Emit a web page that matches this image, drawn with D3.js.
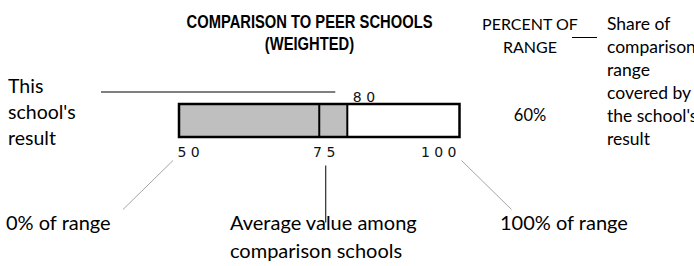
<!DOCTYPE html>
<html>
<head>
<meta charset="utf-8">
<script src="https://cdn.jsdelivr.net/npm/d3@7/dist/d3.min.js"></script>
<style>
  html, body { margin: 0; padding: 0; background: #fff; }
  svg { display: block; }
  .calib { font-family: Lato, "Open Sans", sans-serif; fill: #000; }
  .digits { font-family: "DejaVu Sans", Verdana, sans-serif; font-size: 14px; fill: #111; }
</style>
</head>
<body>
<svg id="chart" width="694" height="266"></svg>
<script>
// ---- data ----
const titleLines = ["COMPARISON TO PEER SCHOOLS", "(WEIGHTED)"];
const percentHeader = ["PERCENT OF", "RANGE"];
const noteLines = ["Share of", "comparison", "range", "covered by", "the school's", "result"];
const resultLabelLines = ["This", "school's", "result"];
const rangeDomain = [50, 100];
const tickValues = [50, 75, 100];
const schoolValue = [80];
const averageValue = [75];
const bottomLabels = ["0% of range", "100% of range"];
const averageLabelLines = ["Average value among", "comparison schools"];

// ---- setup ----
const svg = d3.select("#chart");
const x = d3.scaleLinear().domain(rangeDomain).range([179, 459.5]);
const barTop = 104, barH = 33;
const spaced = v => String(v).split("").join(" ");
const pct = d3.format(".0%")((schoolValue[0] - rangeDomain[0]) / (rangeDomain[1] - rangeDomain[0]));

// Title (narrow bold)
const tx = 309.5, narrow = 0.82;
svg.append("g").attr("transform", `translate(${tx},0) scale(${narrow},1)`)
  .selectAll("text").data(titleLines).join("text")
  .attr("x", 0).attr("y", (d, i) => 28.5 + i * 22)
  .attr("text-anchor", "middle")
  .style("font-family", "'Liberation Sans', Arial, sans-serif")
  .style("font-weight", "bold").style("font-size", "18px").style("fill", "#000")
  .text(d => d);

// Percent of range header
svg.append("g").selectAll("text").data(percentHeader).join("text")
  .attr("class", "calib").attr("x", 530).attr("y", (d, i) => 29.5 + i * 23.5)
  .attr("text-anchor", "middle").style("font-size", "16px").text(d => d);
svg.append("line").attr("x1", 572).attr("x2", 597).attr("y1", 37.5).attr("y2", 37.5)
  .attr("stroke", "#000").attr("stroke-width", 1);
svg.append("text").attr("class", "calib").attr("x", 530).attr("y", 121)
  .attr("text-anchor", "middle").style("font-size", "16.5px").text(pct);

// Right note
svg.append("g").selectAll("text").data(noteLines).join("text")
  .attr("class", "calib").attr("x", 607).attr("y", (d, i) => 29.5 + i * 23)
  .style("font-size", "17.5px").text(d => d);

// Left label
svg.append("g").selectAll("text").data(resultLabelLines).join("text")
  .attr("class", "calib").attr("x", 8).attr("y", (d, i) => 93 + i * 26)
  .style("font-size", "19.5px").text(d => d);

// pointer line to result value
svg.append("line").attr("x1", 101).attr("x2", x(schoolValue[0]) - 12)
  .attr("y1", 92).attr("y2", 92).attr("stroke", "#000").attr("stroke-width", 1);

// Bar: gray fill up to school value
svg.append("rect").attr("x", x(rangeDomain[0])).attr("y", barTop)
  .attr("width", x(schoolValue[0]) - x(rangeDomain[0])).attr("height", barH)
  .attr("fill", "#bfbfbf");
// outline
svg.append("rect").attr("x", x(rangeDomain[0])).attr("y", barTop)
  .attr("width", x(rangeDomain[1]) - x(rangeDomain[0])).attr("height", barH)
  .attr("fill", "none").attr("stroke", "#000").attr("stroke-width", 2.5);
// value and average lines
svg.selectAll("line.mark").data([schoolValue[0], averageValue[0]]).join("line")
  .attr("class", "mark")
  .attr("x1", d => x(d)).attr("x2", d => x(d))
  .attr("y1", barTop).attr("y2", barTop + barH)
  .attr("stroke", "#000").attr("stroke-width", 2);

// value label
svg.append("text").attr("class", "digits").attr("x", x(schoolValue[0]) + 5.5).attr("y", 101.5)
  .text(spaced(schoolValue[0]));

// tick labels
const anchors = ["start", "middle", "end"];
const offs = [-1.5, 5, -3];
svg.append("g").selectAll("text").data(tickValues).join("text")
  .attr("class", "digits")
  .attr("x", (d, i) => x(d) + offs[i]).attr("y", 157)
  .attr("text-anchor", (d, i) => anchors[i])
  .text(d => spaced(d));

// leader lines
svg.append("line").attr("x1", x(rangeDomain[0]) - 6).attr("y1", 160.5)
  .attr("x2", x(rangeDomain[0]) - 56).attr("y2", 209.5)
  .attr("stroke", "#a6a6a6").attr("stroke-width", 1);
svg.append("line").attr("x1", x(rangeDomain[1]) + 2).attr("y1", 160.5)
  .attr("x2", x(rangeDomain[1]) + 52).attr("y2", 209.5)
  .attr("stroke", "#a6a6a6").attr("stroke-width", 1);
svg.append("line").attr("x1", x(averageValue[0]) + 6.5).attr("y1", 165.5)
  .attr("x2", x(averageValue[0]) + 6.5).attr("y2", 222.5)
  .attr("stroke", "#000").attr("stroke-width", 1);

// bottom labels
svg.append("text").attr("class", "calib").attr("x", 6).attr("y", 230)
  .style("font-size", "20px").text(bottomLabels[0]);
svg.append("text").attr("class", "calib").attr("x", 500).attr("y", 230)
  .style("font-size", "20px").text(bottomLabels[1]);
svg.append("g").selectAll("text").data(averageLabelLines).join("text")
  .attr("class", "calib").attr("x", 230).attr("y", (d, i) => 230 + i * 28)
  .style("font-size", "20px").text(d => d);
</script>
</body>
</html>
